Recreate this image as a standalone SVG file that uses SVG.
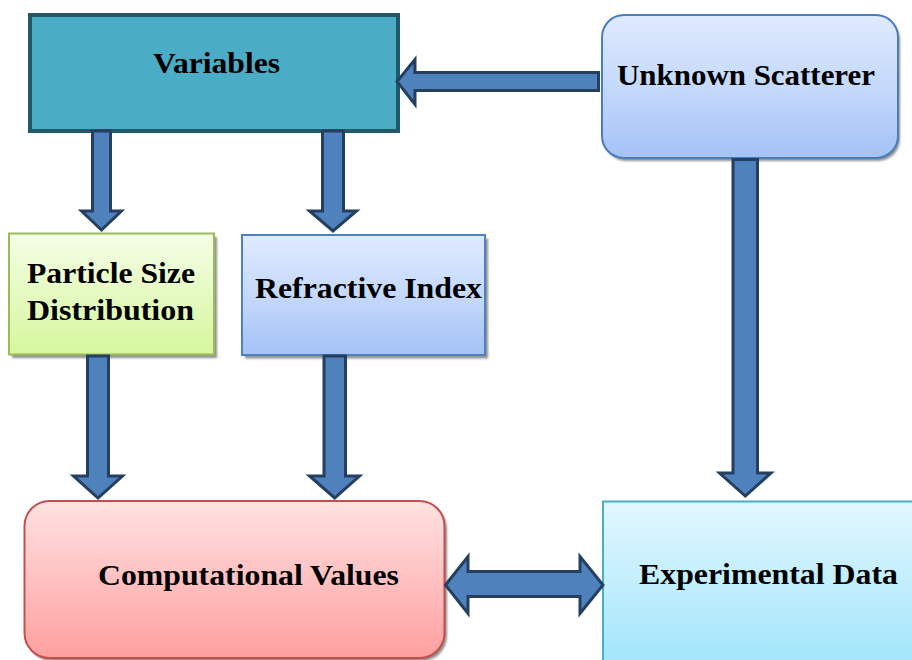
<svg xmlns="http://www.w3.org/2000/svg" width="912" height="660" viewBox="0 0 912 660">
  <defs>
    <linearGradient id="gBlue" x1="0" y1="0" x2="0" y2="1">
      <stop offset="0" stop-color="#dfeafd"/>
      <stop offset="0.5" stop-color="#c5d9fb"/>
      <stop offset="1" stop-color="#a4c2f6"/>
    </linearGradient>
    <linearGradient id="gGreen" x1="0" y1="0" x2="0" y2="1">
      <stop offset="0" stop-color="#f4fde6"/>
      <stop offset="1" stop-color="#d6f79d"/>
    </linearGradient>
    <linearGradient id="gRed" x1="0" y1="0" x2="0" y2="1">
      <stop offset="0" stop-color="#ffe2e2"/>
      <stop offset="1" stop-color="#ff9f9f"/>
    </linearGradient>
    <linearGradient id="gCyan" x1="0" y1="0" x2="0" y2="1">
      <stop offset="0" stop-color="#e2f7fe"/>
      <stop offset="1" stop-color="#9fe5fb"/>
    </linearGradient>
    <filter id="soft" x="-5%" y="-5%" width="110%" height="110%">
      <feGaussianBlur stdDeviation="1"/>
    </filter>
  </defs>
  <style>
    .lbl { font-family: "Liberation Serif", "Times New Roman", serif; font-weight: bold; font-size: 30px; fill: #000; }
    .shadow { fill: #8f8f8f; filter: url(#soft); }
    .arrow { fill: #4f81bd; stroke: #243f60; stroke-width: 3; stroke-linejoin: miter; }
  </style>

  <rect width="912" height="660" fill="#ffffff"/>

  <!-- nodes -->
  <g id="variables">
    <rect x="30" y="15" width="368" height="116" fill="#4bacc6" stroke="#215968" stroke-width="4"/>
    <text class="lbl" x="153" y="73" textLength="127" lengthAdjust="spacingAndGlyphs">Variables</text>
  </g>

  <g id="unknown-scatterer">
    <rect class="shadow" x="604" y="18" width="296" height="143" rx="22"/>
    <rect x="602" y="15" width="296" height="143" rx="22" fill="url(#gBlue)" stroke="#4a7ebb" stroke-width="2"/>
    <text class="lbl" x="617" y="85" textLength="258" lengthAdjust="spacingAndGlyphs">Unknown Scatterer</text>
  </g>

  <g id="particle-size-distribution">
    <rect class="shadow" x="12" y="237" width="205" height="121"/>
    <rect x="9" y="233.5" width="205" height="121" fill="url(#gGreen)" stroke="#9bbb59" stroke-width="2"/>
    <text class="lbl" x="27" y="283" textLength="168" lengthAdjust="spacingAndGlyphs">Particle Size</text>
    <text class="lbl" x="27" y="320" textLength="167" lengthAdjust="spacingAndGlyphs">Distribution</text>
  </g>

  <g id="refractive-index">
    <rect class="shadow" x="245" y="238.5" width="243" height="120"/>
    <rect x="242" y="235" width="243" height="120" fill="url(#gBlue)" stroke="#4f81bd" stroke-width="2"/>
    <text class="lbl" x="255" y="298" textLength="227" lengthAdjust="spacingAndGlyphs">Refractive Index</text>
  </g>

  <g id="computational-values">
    <rect class="shadow" x="27" y="504" width="420" height="157" rx="25"/>
    <rect x="24.5" y="501" width="420" height="157" rx="25" fill="url(#gRed)" stroke="#c0504d" stroke-width="2"/>
    <text class="lbl" x="98" y="585" textLength="301" lengthAdjust="spacingAndGlyphs">Computational Values</text>
  </g>

  <g id="experimental-data">
    <rect x="603" y="501.5" width="320" height="170" fill="url(#gCyan)" stroke="#4bacc6" stroke-width="2"/>
    <text class="lbl" x="639" y="584" textLength="259" lengthAdjust="spacingAndGlyphs">Experimental Data</text>
  </g>

  <!-- connectors: block arrows -->
  <g id="connectors">
    <polygon class="arrow" points="92.5,131 110.5,131 110.5,211 121.5,211 101.5,230 81.5,211 92.5,211"/>
    <polygon class="arrow" points="322.5,131 343.5,131 343.5,211 356.5,211 333,231 309.5,211 322.5,211"/>
    <polygon class="arrow" points="598.5,72.5 415,72.5 415,59.5 397,81.5 415,104.5 415,90.5 598.5,90.5"/>
    <polygon class="arrow" points="87.5,356 108.5,356 108.5,476 122.5,476 98,498 73.5,476 87.5,476"/>
    <polygon class="arrow" points="324,356 345.5,356 345.5,476 359.5,476 334.7,498 309.5,476 324,476"/>
    <polygon class="arrow" points="733,159.5 757.5,159.5 757.5,473 771,473 745.3,496 719.5,473 733,473"/>
    <polygon class="arrow" points="445.5,585 468,556.5 468,571.5 580,571.5 580,556.5 603,585 580,613.5 580,596.5 468,596.5 468,613.5"/>
  </g>
</svg>
